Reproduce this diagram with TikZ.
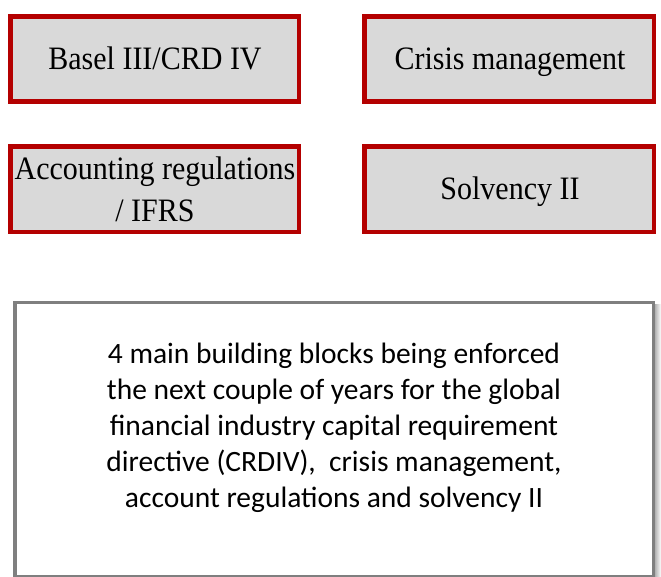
\documentclass[tikz,border=0pt]{standalone}
\usepackage{fontspec}
\setmainfont{Liberation Serif}
\newfontfamily\calib{Carlito}
\definecolor{boxred}{RGB}{180,0,0}
\definecolor{boxfill}{RGB}{217,217,217}
\definecolor{boxgray}{RGB}{127,127,127}
\newcommand{\tallsc}[1]{\scalebox{1}[1.09]{#1}}
\tikzset{
  redbox/.style={draw=boxred, fill=boxfill, line width=4.5pt},
  serlabel/.style={anchor=base, inner sep=0pt, font=\fontsize{30}{40}\selectfont},
  notebox/.style={draw=boxgray, line width=3.5pt},
  notetext/.style={anchor=base, inner sep=0pt, align=center, font=\calib\fontsize{29.5}{36}\selectfont}
}
\begin{document}
\begin{tikzpicture}[x=1pt,y=-1pt]
\useasboundingbox (0,0) rectangle (661,577);
% four red boxes
\path[redbox] (10.5,16.5) rectangle (299,101.5);
\node[serlabel] (t1) at (155,70) {\tallsc{Basel III/CRD IV}};
\path[redbox] (364.7,16.5) rectangle (654,101.5);
\node[serlabel] (t2) at (510,70) {\tallsc{Crisis management}};
\path[redbox] (10.5,146.5) rectangle (299,232);
\node[serlabel] (t3a) at (155,180) {\tallsc{Accounting regulations}};
\node[serlabel] (t3b) at (155,222) {\tallsc{/ IFRS}};
\path[redbox] (364.7,146.5) rectangle (654,232);
\node[serlabel] (t4) at (510,200) {\tallsc{Solvency II}};
% note box
\shade[left color=boxgray!70, right color=white] (654,304) rectangle (661,577);
\path[notebox] (15,302.5) rectangle (653.5,576.5);
\node[notetext] (note) at (334,507) {4 main building blocks being enforced\\
the next couple of years for the global\\
financial industry capital requirement\\
directive (CRDIV),\ \ crisis management,\\
account regulations and solvency II};
\end{tikzpicture}
\end{document}
